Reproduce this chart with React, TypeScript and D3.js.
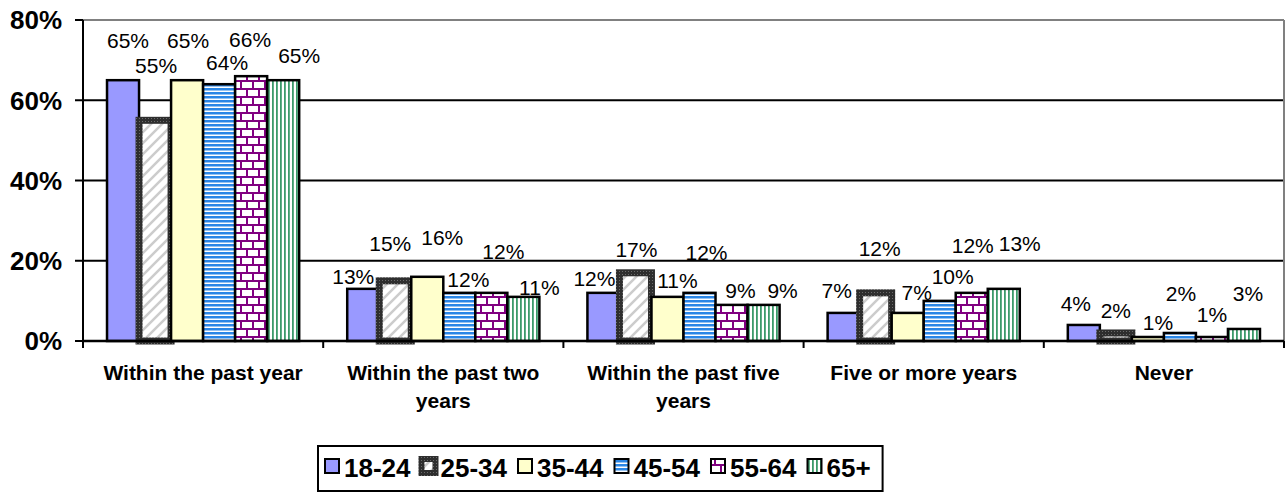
import React from 'react';
import * as d3 from 'd3';

const categories = [
  'Within the past year',
  'Within the past two years',
  'Within the past five years',
  'Five or more years',
  'Never',
];
const ageGroups = ['18-24', '25-34', '35-44', '45-54', '55-64', '65+'];

const age18to24 = [65, 13, 12, 7, 4];
const age25to34 = [55, 15, 17, 12, 2];
const age35to44 = [65, 16, 11, 7, 1];
const age45to54 = [64, 12, 12, 10, 2];
const age55to64 = [66, 12, 9, 12, 1];
const age65plus = [65, 11, 9, 13, 3];

const yTicks = [0, 20, 40, 60, 80];

// label nudges copied from the original layout, [category][age group], px
const labelLift = [
  [40, 55, 40, 22, 37, 25],
  [12, 37, 39, 13, 41, 9],
  [14, 23, 16, 40, 14, 14],
  [22, 44, 20, 24, 47, 45],
  [22, 23, 15, 40, 23, 36],
];
const labelShift = [
  [5, 1, 1, 8, -1, 16],
  [-10, -5, 15, 9, 12, 16],
  [-9, 1, 10, 7, 9, 19],
  [-7, 4, 9, 13, 1, 16],
  [-8, 0, 10, 1, 0, 4],
];

const series = [age18to24, age25to34, age35to44, age45to54, age55to64, age65plus];

const W = 1288;
const H = 494;
const left = 83;
const right = 1284;
const top = 20;
const bottom = 341;
const font = "'Liberation Sans', Arial, sans-serif";

const fills = ['#9999FF', 'url(#diag)', '#FFFFCC', 'url(#hlines)', 'url(#brick)', 'url(#vlines)'];
const strokes = ['#000', 'url(#darkdots)', '#000', '#000', '#000', '#000'];
const strokeW = [2.5, 7, 2.5, 2.5, 2.5, 2.5];

let ctx: CanvasRenderingContext2D | null = null;
const measure = (t: string, f: string) => {
  if (!ctx) ctx = document.createElement('canvas').getContext('2d');
  ctx!.font = f;
  return ctx!.measureText(t).width;
};

const wrap = (label: string, maxW: number, f: string) => {
  const words = label.split(' ');
  const lines: string[] = [];
  let cur = '';
  words.forEach((w) => {
    const test = cur ? cur + ' ' + w : w;
    if (cur && measure(test, f) > maxW) {
      lines.push(cur);
      cur = w;
    } else cur = test;
  });
  lines.push(cur);
  return lines;
};

export default function App() {
  const x0 = d3.scaleBand().domain(categories).range([left, right]);
  const x1 = d3
    .scaleBand()
    .domain(ageGroups)
    .range([0, x0.bandwidth()])
    .paddingOuter(0.75);
  const y = d3.scaleLinear().domain([0, 80]).range([bottom, top]);

  const catFont = `bold 21px ${font}`;
  const legSize = 26;
  const legFont = `bold ${legSize}px ${font}`;

  // legend layout
  const sw = 14;
  const legLeft = 318;
  const itemGap = 11;
  const legendItems: { x: number; tx: number; label: string; i: number }[] = [];
  let lx = legLeft + 7;
  ageGroups.forEach((g, i) => {
    legendItems.push({ x: lx, tx: lx + sw + 5, label: g, i });
    lx += sw + 5 + measure(g, legFont) + itemGap;
  });
  const legendRight = lx - itemGap + 12;

  const boundaries = [...categories.map((c) => x0(c)!), right];

  return (
    <svg
      width={W}
      height={H}
      style={{ position: 'absolute', left: 0, top: 0, background: '#fff' }}
      fontFamily={font}
    >
      <defs>
        <pattern id="diag" patternUnits="userSpaceOnUse" width={11} height={11}>
          <rect width={11} height={11} fill="#fff" />
          <path d="M-2,13 L13,-2 M-2,2 L2,-2 M9,13 L13,9" stroke="#cccccc" strokeWidth={2.5} />
        </pattern>
        <pattern id="darkdots" patternUnits="userSpaceOnUse" width={3} height={3}>
          <rect width={3} height={3} fill="#2e2e2e" />
          <rect x={1} y={1} width={1} height={1} fill="#6a6a6a" />
        </pattern>
        <pattern id="hlines" patternUnits="userSpaceOnUse" width={4} height={4}>
          <rect width={4} height={4} fill="#fff" />
          <rect y={0} width={4} height={2.5} fill="#2a86e6" />
        </pattern>
        <pattern id="vlines" patternUnits="userSpaceOnUse" width={4} height={4}>
          <rect width={4} height={4} fill="#fff" />
          <rect x={0} width={1.8} height={4} fill="#3c9a6a" />
        </pattern>
        <pattern id="brick" patternUnits="userSpaceOnUse" width={12} height={16}>
          <rect width={12} height={16} fill="#fff" />
          <rect y={0} width={12} height={2} fill="#800080" />
          <rect y={8} width={12} height={2} fill="#800080" />
          <rect x={0} y={0} width={2} height={8} fill="#800080" />
          <rect x={6} y={8} width={2} height={8} fill="#800080" />
        </pattern>
      </defs>

      {/* gridlines */}
      {yTicks
        .filter((t) => t > 0 && t < 80)
        .map((t) => (
          <line key={t} x1={left} x2={right} y1={y(t)} y2={y(t)} stroke="#000" strokeWidth={2} />
        ))}
      {/* plot area border top/right */}
      <line x1={left} x2={right} y1={y(80)} y2={y(80)} stroke="#808080" strokeWidth={2} />
      <line x1={right} x2={right} y1={y(80)} y2={bottom} stroke="#808080" strokeWidth={2} />

      {/* bars */}
      {categories.map((c, ci) =>
        ageGroups.map((g, si) => {
          const v = series[si][ci];
          const bx = x0(c)! + x1(g)!;
          return (
            <rect
              key={c + g}
              x={bx}
              y={y(v)}
              width={x1.bandwidth()}
              height={y(0) - y(v)}
              fill={fills[si]}
              stroke={strokes[si]}
              strokeWidth={strokeW[si]}
            />
          );
        })
      )}

      {/* axes */}
      <line x1={left} x2={left} y1={top} y2={bottom} stroke="#000" strokeWidth={2} />
      <line x1={left} x2={right} y1={bottom} y2={bottom} stroke="#000" strokeWidth={2.5} />
      {yTicks.map((t) => (
        <g key={t}>
          <line x1={left - 8} x2={left} y1={y(t)} y2={y(t)} stroke="#000" strokeWidth={2} />
          <text
            x={62}
            y={y(t)}
            dy="0.36em"
            textAnchor="end"
            fontWeight="bold"
            fontSize={26}
          >
            {t}%
          </text>
        </g>
      ))}
      {boundaries.map((b, i) => (
        <line key={i} x1={b} x2={b} y1={bottom} y2={bottom + 7} stroke="#000" strokeWidth={2} />
      ))}

      {/* category labels */}
      {categories.map((c) => {
        const lines = wrap(c, 225, catFont);
        const cx = x0(c)! + x0.bandwidth() / 2;
        return (
          <text key={c} textAnchor="middle" fontWeight="bold" fontSize={21}>
            {lines.map((l, li) => (
              <tspan key={li} x={cx} y={380 + li * 28}>
                {l}
              </tspan>
            ))}
          </text>
        );
      })}

      {/* data labels */}
      {categories.map((c, ci) =>
        ageGroups.map((g, si) => {
          const v = series[si][ci];
          const cx = x0(c)! + x1(g)! + x1.bandwidth() / 2 + labelShift[ci][si];
          const cy = y(v) - labelLift[ci][si];
          return (
            <text key={c + g} x={cx} y={cy} dy="0.36em" textAnchor="middle" fontSize={21}>
              {v}%
            </text>
          );
        })
      )}

      {/* legend */}
      <rect
        x={legLeft}
        y={446}
        width={legendRight - legLeft}
        height={45}
        fill="#fff"
        stroke="#000"
        strokeWidth={2}
      />
      {legendItems.map((it) => (
        <g key={it.label}>
          <rect
            x={it.x}
            y={459}
            width={sw}
            height={sw}
            fill={fills[it.i]}
            stroke={strokes[it.i]}
            strokeWidth={it.i === 1 ? 6 : 2}
          />
          <text x={it.tx} y={477} fontWeight="bold" fontSize={legSize}>
            {it.label}
          </text>
        </g>
      ))}
    </svg>
  );
}
